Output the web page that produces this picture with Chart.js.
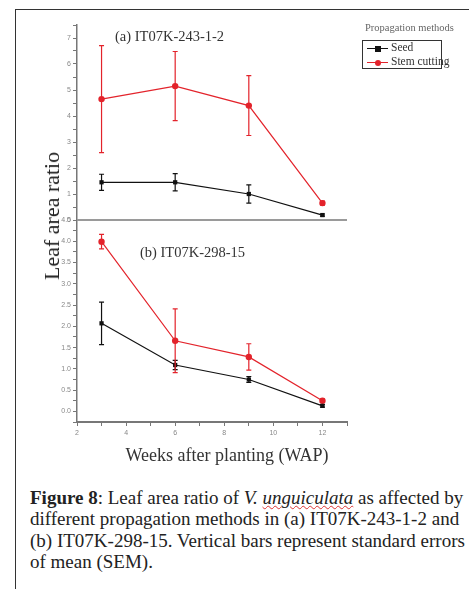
<!DOCTYPE html>
<html>
<head>
<meta charset="utf-8">
<script src="https://cdn.jsdelivr.net/npm/chart.js@4.4.1/dist/chart.umd.min.js"></script>
<style>
  html, body { margin: 0; padding: 0; background: #fff; }
  body { width: 469px; height: 589px; position: relative; overflow: hidden; font-family: 'Liberation Serif', 'Times New Roman', serif; }
  .frame { position: absolute; left: 15px; top: 9px; width: 460px; height: 600px; border-left: 1.5px solid #333; border-top: 1.5px solid #333; }
  #chartBox { position: absolute; left: 0; top: 0; }
  .panelTitle { position: absolute; font-size: 14.5px; color: #333; white-space: nowrap; }
  .ytitle { position: absolute; left: 52px; top: 216px; transform: translate(-50%, -50%) rotate(-90deg); font-size: 22px; color: #222; white-space: nowrap; }
  .xtitle { position: absolute; left: 227px; top: 455px; transform: translate(-50%, -50%); font-size: 18px; color: #333; white-space: nowrap; }
  .legTitle { position: absolute; left: 365px; top: 22px; font-size: 10.5px; color: #666; white-space: nowrap; }
  .legBox { position: absolute; left: 362px; top: 40px; width: 78px; height: 27px; border: 1.5px solid #333; }
  .legRow { position: absolute; left: 367px; font-size: 11.5px; white-space: nowrap; height: 12px; }
  .legRow .ln { position: absolute; left: 0; top: 6px; width: 21px; height: 1.3px; }
  .legRow .mk { position: absolute; left: 8px; top: 3.5px; width: 6px; height: 6px; }
  .legRow .tx { position: absolute; left: 24px; top: -1px; color: #333; }
  .caption { position: absolute; left: 30px; top: 487px; font-size: 19px; line-height: 21.3px; color: #222; }
  .caption div { white-space: nowrap; }
  .wavy { text-decoration: underline wavy #d33; text-decoration-thickness: 1px; }
</style>
</head>
<body>
<div class="frame"></div>
<canvas id="chartBox" width="469" height="470"></canvas>

<div class="panelTitle" style="left:115px; top:28px;">(a) IT07K-243-1-2</div>
<div class="panelTitle" style="left:140px; top:244px;">(b) IT07K-298-15</div>
<div class="ytitle">Leaf area ratio</div>
<div class="xtitle">Weeks after planting (WAP)</div>

<div class="legTitle">Propagation methods</div>
<div class="legBox"></div>
<div class="legRow" style="top:42px;">
  <div class="ln" style="background:#111;"></div>
  <div class="mk" style="background:#111;"></div>
  <div class="tx">Seed</div>
</div>
<div class="legRow" style="top:56px;">
  <div class="ln" style="background:#e3232b;"></div>
  <div class="mk" style="background:#e3232b; border-radius:50%;"></div>
  <div class="tx">Stem cutting</div>
</div>

<div class="caption">
  <div><b>Figure 8</b>: Leaf area ratio of <i>V. <span class="wavy">unguiculata</span></i> as affected by</div>
  <div>different propagation methods in (a) IT07K-243-1-2 and</div>
  <div>(b) IT07K-298-15. Vertical bars represent standard errors</div>
  <div>of mean (SEM).</div>
</div>

<script>
/* ── DATA ───────────────────────────────────── */
const weeks = [3, 6, 9, 12];

// (a) IT07K-243-1-2
const seedA    = [1.45, 1.45, 1.00, 0.19];
const seedAErr = [0.31, 0.33, 0.35, 0.04];
const stemA    = [4.65, 5.15, 4.40, 0.65];
const stemAErr = [2.06, 1.33, 1.15, 0.08];

// (b) IT07K-298-15
const seedB    = [2.07, 1.09, 0.75, 0.13];
const seedBErr = [0.50, 0.11, 0.07, 0.03];
const stemB    = [3.99, 1.66, 1.28, 0.25];
const stemBErr = [0.17, 0.75, 0.31, 0.04];

const xTicks = [2, 4, 6, 8, 10, 12];

/* ── STYLE ──────────────────────────────────── */
const BLACK = '#111111';
const RED   = '#e3232b';
const AXIS  = '#777777';
const tickFont = { family: "'Liberation Sans', Arial, sans-serif", size: 7 };

const toPoints = (ys) => weeks.map((w, i) => ({ x: w, y: ys[i] }));

function series(label, ys, errs, color, style, axis) {
    return {
        label,
        data: toPoints(ys),
        errors: errs,
        yAxisID: axis,
        borderColor: color,
        backgroundColor: color,
        borderWidth: 1.2,
        pointStyle: style,
        pointRadius: style === 'rect' ? 3 : 3.2,
        pointBorderWidth: 0,
        tension: 0,
    };
}

// error bars + panel divider
const errorBars = {
    id: 'errorBars',
    afterDatasetsDraw(chart) {
        const ctx = chart.ctx;
        const area = chart.chartArea;
        const top = chart.scales.yt;

        ctx.save();
        ctx.strokeStyle = '#9a9a9a';
        ctx.lineWidth = 2;
        ctx.beginPath();
        ctx.moveTo(area.left, top.bottom);
        ctx.lineTo(area.right, top.bottom);
        ctx.stroke();
        ctx.restore();

        chart.data.datasets.forEach((ds, i) => {
            const meta = chart.getDatasetMeta(i);
            const yScale = chart.scales[ds.yAxisID];
            ctx.save();
            ctx.strokeStyle = ds.borderColor;
            ctx.lineWidth = 1.2;
            meta.data.forEach((pt, j) => {
                const v = ds.data[j].y;
                const e = ds.errors[j];
                const y1 = yScale.getPixelForValue(v + e);
                const y2 = yScale.getPixelForValue(v - e);
                const x = pt.x;
                ctx.beginPath();
                ctx.moveTo(x, y1); ctx.lineTo(x, y2);
                ctx.moveTo(x - 2.5, y1); ctx.lineTo(x + 2.5, y1);
                ctx.moveTo(x - 2.5, y2); ctx.lineTo(x + 2.5, y2);
                ctx.stroke();
            });
            ctx.restore();
        });
    }
};

const axisGrid = { drawOnChartArea: false, tickLength: 4, color: AXIS, lineWidth: 1 };
const axisBorder = { display: true, color: AXIS, width: 1.5 };

new Chart(document.getElementById('chartBox'), {
    type: 'line',
    data: {
        datasets: [
            series('Seed', seedB, seedBErr, BLACK, 'rect', 'yb'),
            series('Stem cutting', stemB, stemBErr, RED, 'circle', 'yb'),
            series('Seed', seedA, seedAErr, BLACK, 'rect', 'yt'),
            series('Stem cutting', stemA, stemAErr, RED, 'circle', 'yt'),
        ]
    },
    options: {
        responsive: false,
        animation: false,
        layout: { padding: { left: 57, top: 25, right: 122, bottom: 28 } },
        plugins: { legend: { display: false }, tooltip: { enabled: false } },
        scales: {
            x: {
                type: 'linear',
                min: 2, max: 13,
                grid: axisGrid,
                border: { display: true, color: AXIS, width: 2 },
                afterFit: (s) => { s.height = 20; },
                ticks: {
                    stepSize: 1,
                    autoSkip: false,
                    maxRotation: 0,
                    color: '#888',
                    font: tickFont,
                    padding: 3,
                    callback: (v) => xTicks.includes(v) ? String(v) : ''
                }
            },
            yb: {
                type: 'linear',
                position: 'left',
                stack: 'panels',
                stackWeight: 202,
                min: -0.25, max: 4.5,
                grid: axisGrid,
                border: axisBorder,
                afterFit: (s) => { s.width = 20; },
                ticks: {
                    stepSize: 0.25,
                    autoSkip: false,
                    color: '#888',
                    font: tickFont,
                    padding: 2,
                    callback: (v) => (v >= 0 && Math.abs(v * 2 - Math.round(v * 2)) < 1e-6) ? v.toFixed(1) : ''
                }
            },
            yt: {
                type: 'linear',
                position: 'left',
                stack: 'panels',
                stackWeight: 195,
                min: 0, max: 7.5,
                grid: axisGrid,
                border: axisBorder,
                afterFit: (s) => { s.width = 20; },
                ticks: {
                    stepSize: 0.5,
                    autoSkip: false,
                    color: '#888',
                    font: tickFont,
                    padding: 2,
                    callback: (v) => Number.isInteger(v) ? String(v) : ''
                }
            }
        }
    },
    plugins: [errorBars]
});
</script>
</body>
</html>
